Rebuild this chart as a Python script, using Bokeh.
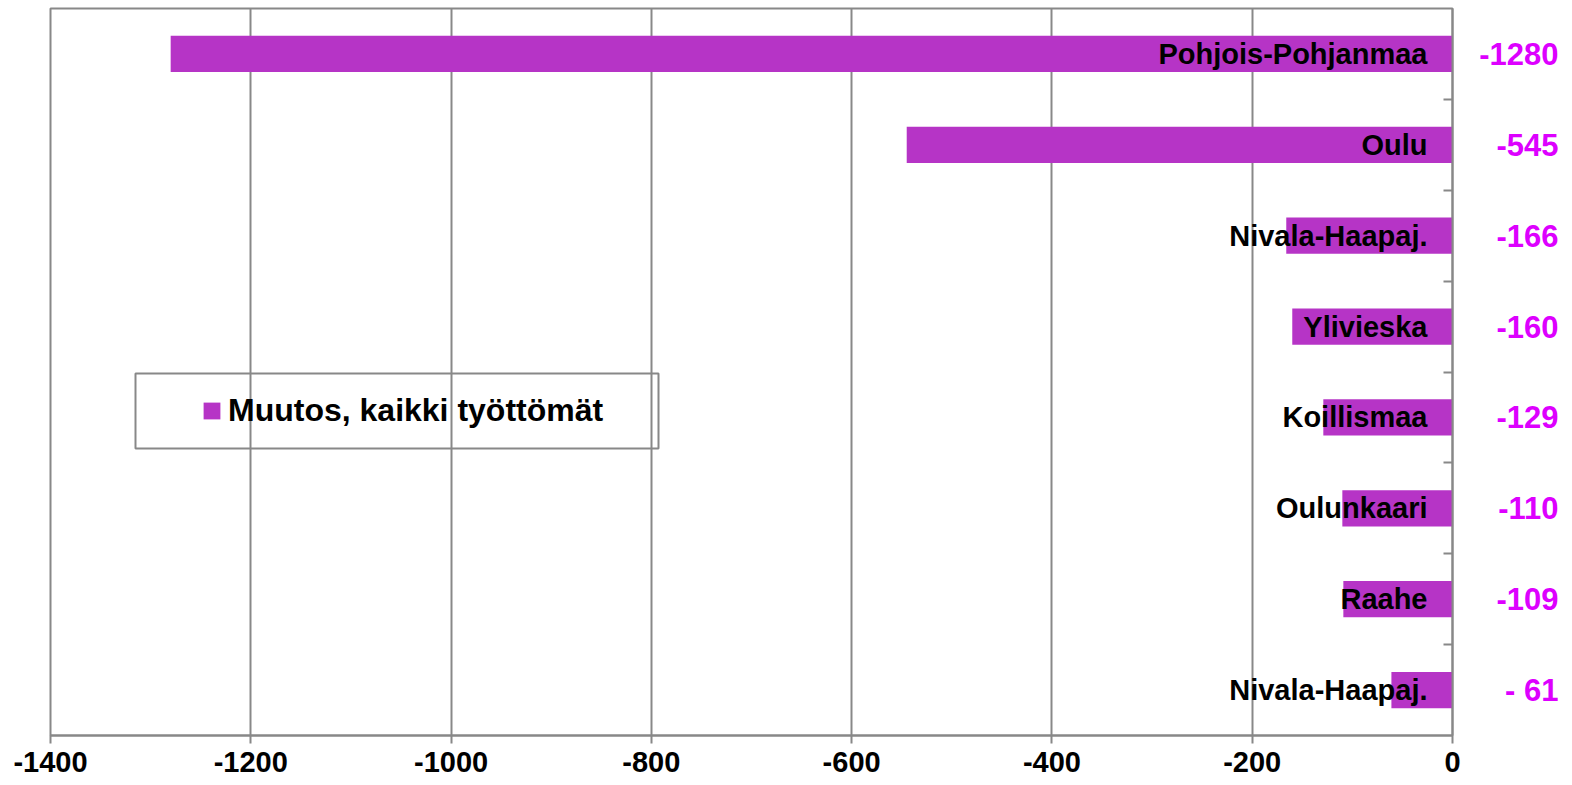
from bokeh.plotting import figure
from bokeh.layouts import row
from bokeh.models import (Range1d, FixedTicker, ColumnDataSource, Legend,
                          LegendItem, BoxAnnotation)
from bokeh.core.properties import value
from bokeh.embed import file_html
from bokeh.resources import INLINE

# ---- data ----
categories = ["Pohjois-Pohjanmaa", "Oulu", "Nivala-Haapaj.", "Ylivieska",
              "Koillismaa", "Oulunkaari", "Raahe", "Nivala-Haapaj."]
changes = [-1280, -545, -166, -160, -129, -110, -109, -61]
value_labels = ["-1280", "-545", "-166", "-160", "-129", "-110", "-109", "- 61"]
x_ticks = [-1400, -1200, -1000, -800, -600, -400, -200, 0]
x_tick_labels = ["-1400", "-1200", "-1000", "-800", "-600", "-400", "-200", "0"]
series_name = "Muutos, kaikki työttömät"

# ---- styles ----
FONT = "Liberation Sans"
BAR = "#b634c6"
VAL = "#dd00ff"
GRAY = "#888888"

H = 785
TOP = 8
BOTTOM = 50

n = len(categories)
ys = [n - i - 0.5 for i in range(n)]
source = ColumnDataSource(dict(y=ys, cat=categories, change=changes, vlabel=value_labels))
yr = Range1d(0, n)

p = figure(width=1464, height=H,
           x_range=Range1d(x_ticks[0], x_ticks[-1]), y_range=yr,
           y_axis_location="right", output_backend="svg", toolbar_location=None,
           min_border_left=50, min_border_right=12, min_border_top=TOP,
           min_border_bottom=BOTTOM,
           background_fill_color="white", border_fill_color="white")

p.outline_line_color = GRAY
p.outline_line_width = 2

# grid
p.xgrid.ticker = FixedTicker(ticks=x_ticks)
p.xgrid.grid_line_color = GRAY
p.xgrid.grid_line_width = 2
p.ygrid.visible = False

# x axis
xa = p.xaxis[0]
xa.ticker = FixedTicker(ticks=x_ticks)
xa.major_label_overrides = {t: l for t, l in zip(x_ticks, x_tick_labels)}
xa.axis_line_color = GRAY
xa.axis_line_width = 2
xa.major_tick_line_color = GRAY
xa.major_tick_line_width = 2
xa.major_tick_in = 0
xa.major_tick_out = 8
xa.minor_tick_line_color = None
xa.major_label_text_font = FONT
xa.major_label_text_font_style = "bold"
xa.major_label_text_font_size = "29px"
xa.major_label_text_color = "black"
xa.major_label_standoff = 8

# right (category) axis with boundary ticks
ya = p.yaxis[0]
ya.ticker = FixedTicker(ticks=[], minor_ticks=list(range(1, n)))
ya.axis_line_color = GRAY
ya.axis_line_width = 2
ya.major_tick_line_color = None
ya.major_tick_out = 0
ya.major_tick_in = 0
ya.minor_tick_line_color = GRAY
ya.minor_tick_line_width = 2
ya.minor_tick_in = 9
ya.minor_tick_out = 0
ya.major_label_standoff = 0
ya.major_label_text_font_size = "0px"

# bars
r = p.hbar(y="y", left=0, right="change", height=0.4, source=source,
           fill_color=BAR, line_color=None)

# category labels inside the bars
p.text(x=0, y="y", text="cat", source=source, x_offset=-25,
       text_align="right", text_baseline="middle",
       text_font=value(FONT), text_font_style="bold", text_font_size="29px",
       text_color="black")

# legend frame
box = BoxAnnotation(left=85, right=608, bottom=287, top=362,
                    left_units="screen", right_units="screen",
                    top_units="screen", bottom_units="screen",
                    fill_alpha=0, line_color=GRAY, line_alpha=1, line_width=2)
p.add_layout(box)

legend = Legend(items=[LegendItem(label=series_name, renderers=[r])],
                location=(151, 306), padding=0, margin=0, spacing=0,
                border_line_color=None, background_fill_alpha=0,
                glyph_width=21, glyph_height=21, label_standoff=6,
                label_text_font=FONT, label_text_font_style="bold",
                label_text_font_size="32px", label_text_color="black")
p.add_layout(legend)

# value labels column to the right of the axis (shares the category scale)
p2 = figure(width=106, height=H, x_range=Range1d(0, 1), y_range=yr,
            x_axis_location=None, y_axis_location=None,
            output_backend="svg", toolbar_location=None,
            min_border_left=0, min_border_right=0, min_border_top=TOP,
            min_border_bottom=BOTTOM, outline_line_color=None,
            background_fill_color="white", border_fill_color="white")
p2.grid.visible = False
p2.text(x=1, y="y", text="vlabel", source=source, x_offset=-12,
        text_align="right", text_baseline="middle",
        text_font=value(FONT), text_font_style="bold", text_font_size="31px",
        text_color=VAL)

layout = row(p, p2, spacing=0)
open("out.html", "w").write(file_html(layout, INLINE))
